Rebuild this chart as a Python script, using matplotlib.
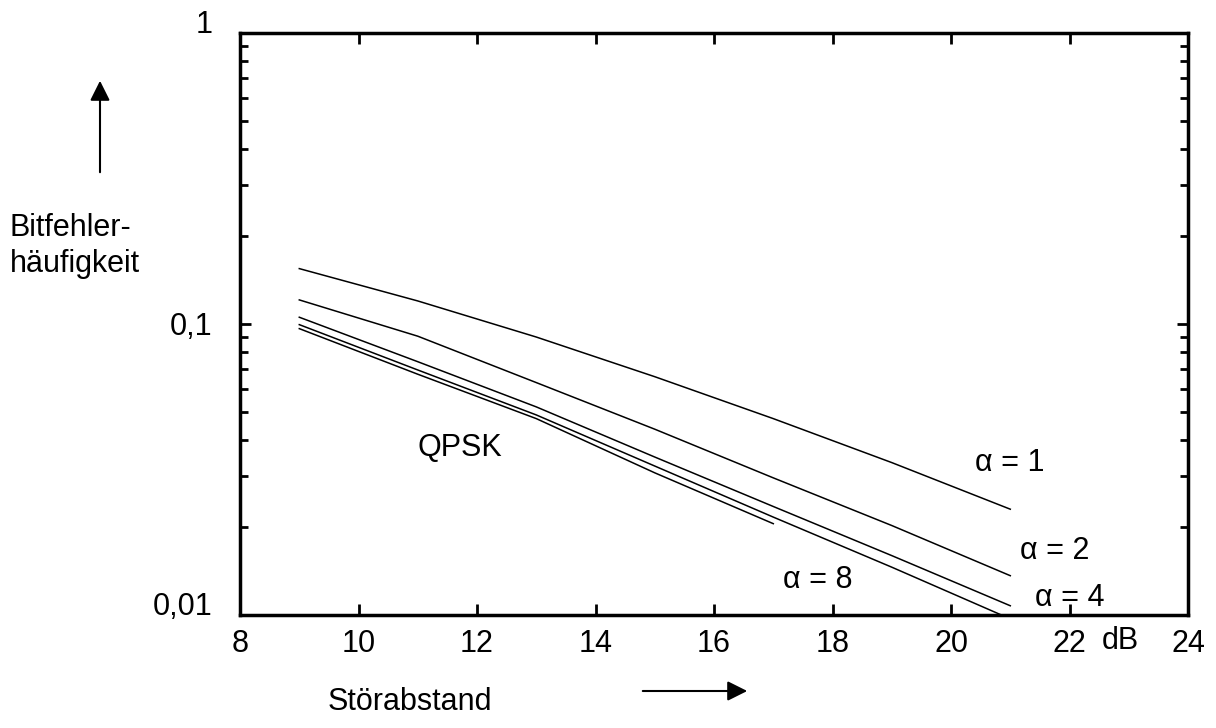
import numpy as np
import matplotlib.pyplot as plt

plt.rcParams['font.family'] = ['Liberation Sans', 'DejaVu Sans']

# Störabstand in dB
snr = [9, 11, 13, 15, 17, 19, 21]
snr_short = [9, 11, 13, 15, 17]

# Bitfehlerhäufigkeit
ber_a1 = [0.155, 0.120, 0.0902, 0.0659, 0.0473, 0.0334, 0.0231]
ber_a2 = [0.121, 0.0908, 0.0629, 0.0435, 0.0296, 0.0203, 0.01365]
ber_a4 = [0.1055, 0.0742, 0.0519, 0.0349, 0.0236, 0.0160, 0.01076]
ber_a8 = [0.0995, 0.0695, 0.0487, 0.0325, 0.0217, 0.0146, 0.0097]
ber_qpsk = [0.0964, 0.0672, 0.0473, 0.0308, 0.0206]

xticks = [8, 10, 12, 14, 16, 18, 20, 22, 24]
yticks = [0.01, 0.1, 1]
yticklabels = ['0,01', '0,1', '1']

fs = 22

fig = plt.figure(figsize=(12.16, 7.28), dpi=100)
ax = fig.add_axes([0.1974, 0.1552, 0.7796, 0.7995])

for y in [ber_a1, ber_a2, ber_a4, ber_a8]:
    ax.plot(snr, y, color='black', lw=1.1)
ax.plot(snr_short, ber_qpsk, color='black', lw=1.1)

ax.set_yscale('log')
ax.set_xlim(8, 24)
ax.set_ylim(0.01, 1)
ax.set_xticks(xticks)
ax.set_xticklabels([str(t) for t in xticks])
ax.set_yticks(yticks)
ax.set_yticklabels(yticklabels)
ax.yaxis.set_minor_locator(plt.matplotlib.ticker.LogLocator(base=10, subs=np.arange(2, 10)))
ax.yaxis.set_minor_formatter(plt.NullFormatter())

ax.tick_params(which='both', direction='in', top=True, right=True, width=2, color='black')
ax.tick_params(which='major', length=8, labelsize=fs)
ax.tick_params(which='minor', length=6)
ax.tick_params(axis='x', pad=10)
ax.tick_params(axis='y', pad=20)
for s in ax.spines.values():
    s.set_linewidth(2.5)
ax.get_yticklabels()[2].set_va('baseline')
ax.get_yticklabels()[0].set_va('baseline')

# Kurvenbeschriftungen
ax.text(20.4, 0.0333, 'α = 1', fontsize=fs, va='center')
ax.text(21.16, 0.0166, 'α = 2', fontsize=fs, va='center')
ax.text(21.42, 0.01144, 'α = 4', fontsize=fs, va='center')
ax.text(17.16, 0.0132, 'α = 8', fontsize=fs, va='center')
ax.text(11.0, 0.0375, 'QPSK', fontsize=fs, va='center')
ax.annotate('dB', xy=(22.85, 0), xycoords=('data', 'axes fraction'),
            xytext=(0, -19), textcoords='offset points',
            fontsize=fs, ha='center', va='center')

# Achsenbeschriftungen mit Pfeilen
fig.text(10 / 1216, 1 - 246 / 728, 'Bitfehler-\nhäufigkeit', fontsize=fs,
         ha='left', va='center', linespacing=1.3)
fig.add_artist(plt.matplotlib.patches.FancyArrowPatch(
    (100 / 1216, 1 - 175 / 728), (100 / 1216, 1 - 78 / 728),
    transform=fig.transFigure, arrowstyle='-|>', mutation_scale=30,
    color='black', lw=1.5))
fig.text(410 / 1216, 1 - 702 / 728, 'Störabstand', fontsize=fs,
         ha='center', va='center')
fig.add_artist(plt.matplotlib.patches.FancyArrowPatch(
    (640 / 1216, 1 - 691 / 728), (750 / 1216, 1 - 691 / 728),
    transform=fig.transFigure, arrowstyle='-|>', mutation_scale=30,
    color='black', lw=1.5))

plt.savefig('out.png', dpi=100)
